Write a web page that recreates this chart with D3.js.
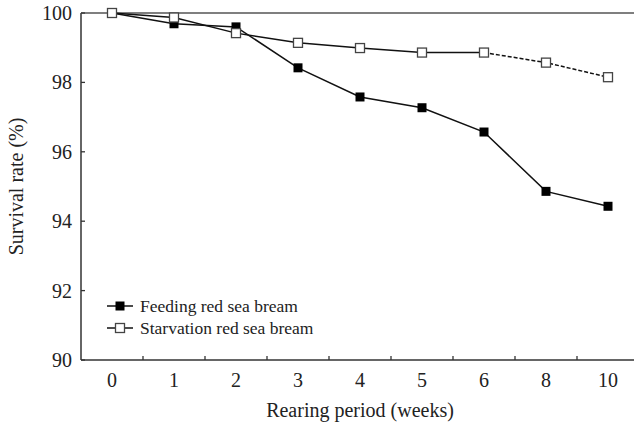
<!DOCTYPE html>
<html>
<head>
<meta charset="utf-8">
<script src="https://cdn.jsdelivr.net/npm/d3@7"></script>
<style>
  body { margin: 0; background: #fff; }
</style>
</head>
<body>
<svg id="chart" width="634" height="427" font-family="'Liberation Serif', 'DejaVu Serif', 'Times New Roman', serif"></svg>
<script>
// rearing weeks (categorical axis)
const weeks = ["0", "1", "2", "3", "4", "5", "6", "8", "10"];
// survival rate (%)
const feeding = [100, 99.69, 99.6, 98.42, 97.58, 97.27, 96.57, 94.86, 94.43];
const starvation = [100, 99.87, 99.42, 99.14, 98.99, 98.86, 98.86, 98.57, 98.15];
const yTicks = [90, 92, 94, 96, 98, 100];
// index from which the starvation line is drawn dashed
const dashFrom = 6;

const svg = d3.select("#chart");
const plotL = 81, plotR = 639, plotT = 13, plotB = 360;
const ink = "#222";

const x = d3.scaleBand().domain(weeks).range([plotL, plotR]);
const y = d3.scaleLinear().domain([90, 100]).range([plotB, plotT]);
const cx = (w) => x(w) + x.bandwidth() / 2;

// frame: left axis, top line, bottom axis
svg.append("line").attr("x1", plotL).attr("x2", plotL).attr("y1", plotT).attr("y2", plotB)
  .attr("stroke", "#333").attr("stroke-width", 1.5);
svg.append("line").attr("x1", plotL).attr("x2", 634).attr("y1", plotT).attr("y2", plotT)
  .attr("stroke", "#555").attr("stroke-width", 1.3);
svg.append("line").attr("x1", plotL).attr("x2", 634).attr("y1", plotB).attr("y2", plotB)
  .attr("stroke", "#333").attr("stroke-width", 1.5);

// y ticks and labels
const yAxis = svg.append("g");
yAxis.selectAll("line").data(yTicks).enter().append("line")
  .attr("x1", plotL).attr("x2", plotL + 4)
  .attr("y1", (d) => y(d)).attr("y2", (d) => y(d))
  .attr("stroke", "#333").attr("stroke-width", 1.3);
yAxis.selectAll("text").data(yTicks).enter().append("text")
  .attr("x", plotL - 9).attr("y", (d) => y(d)).attr("dy", "0.35em")
  .attr("text-anchor", "end").attr("font-size", "20px").attr("fill", ink)
  .text((d) => d);

// x ticks between categories, labels at centers
const xAxis = svg.append("g");
xAxis.selectAll("line").data(weeks.slice(1)).enter().append("line")
  .attr("x1", (d) => x(d)).attr("x2", (d) => x(d))
  .attr("y1", plotB).attr("y2", plotB - 4)
  .attr("stroke", "#333").attr("stroke-width", 1.3);
xAxis.selectAll("text").data(weeks).enter().append("text")
  .attr("x", (d) => cx(d)).attr("y", plotB + 27)
  .attr("text-anchor", "middle").attr("font-size", "20px").attr("fill", ink)
  .text((d) => d);

// axis titles
svg.append("text").attr("x", 360).attr("y", 417).attr("text-anchor", "middle")
  .attr("font-size", "20px").attr("fill", ink).text("Rearing period (weeks)");
svg.append("text").attr("transform", "translate(23," + (plotT + plotB) / 2 + ") rotate(-90)")
  .attr("text-anchor", "middle").attr("font-size", "20px").attr("fill", ink).text("Survival rate (%)");

const line = d3.line().x((d) => cx(d.w)).y((d) => y(d.v));
const featPts = weeks.map((w, i) => ({ w: w, v: feeding[i] }));
const starvPts = weeks.map((w, i) => ({ w: w, v: starvation[i] }));

svg.append("path").datum(starvPts.slice(0, dashFrom + 1)).attr("d", line)
  .attr("fill", "none").attr("stroke", "#111").attr("stroke-width", 1.5);
svg.append("path").datum(starvPts.slice(dashFrom)).attr("d", line)
  .attr("fill", "none").attr("stroke", "#111").attr("stroke-width", 1.5)
  .attr("stroke-dasharray", "4,2");
svg.append("path").datum(featPts).attr("d", line)
  .attr("fill", "none").attr("stroke", "#111").attr("stroke-width", 1.5);

const ms = 9;
svg.append("g").selectAll("rect").data(featPts).enter().append("rect")
  .attr("x", (d) => cx(d.w) - ms / 2).attr("y", (d) => y(d.v) - ms / 2)
  .attr("width", ms).attr("height", ms).attr("fill", "#000");
svg.append("g").selectAll("rect").data(starvPts).enter().append("rect")
  .attr("x", (d) => cx(d.w) - ms / 2).attr("y", (d) => y(d.v) - ms / 2)
  .attr("width", ms).attr("height", ms).attr("fill", "#fff")
  .attr("stroke", "#444").attr("stroke-width", 1.3);

// legend
const legend = [
  { label: "Feeding red sea bream", fill: "#000", stroke: "none" },
  { label: "Starvation red sea bream", fill: "#fff", stroke: "#444" }
];
const lg = svg.append("g").selectAll("g").data(legend).enter().append("g")
  .attr("transform", (d, i) => "translate(0," + (306 + i * 22) + ")");
lg.append("line").attr("x1", 107).attr("x2", 133).attr("stroke", "#111").attr("stroke-width", 1.5);
lg.append("rect").attr("x", 120 - ms / 2).attr("y", -ms / 2).attr("width", ms).attr("height", ms)
  .attr("fill", (d) => d.fill).attr("stroke", (d) => d.stroke).attr("stroke-width", 1.3);
lg.append("text").attr("x", 140).attr("dy", "0.35em").attr("font-size", "17.5px").attr("fill", ink)
  .text((d) => d.label);
</script>
</body>
</html>
